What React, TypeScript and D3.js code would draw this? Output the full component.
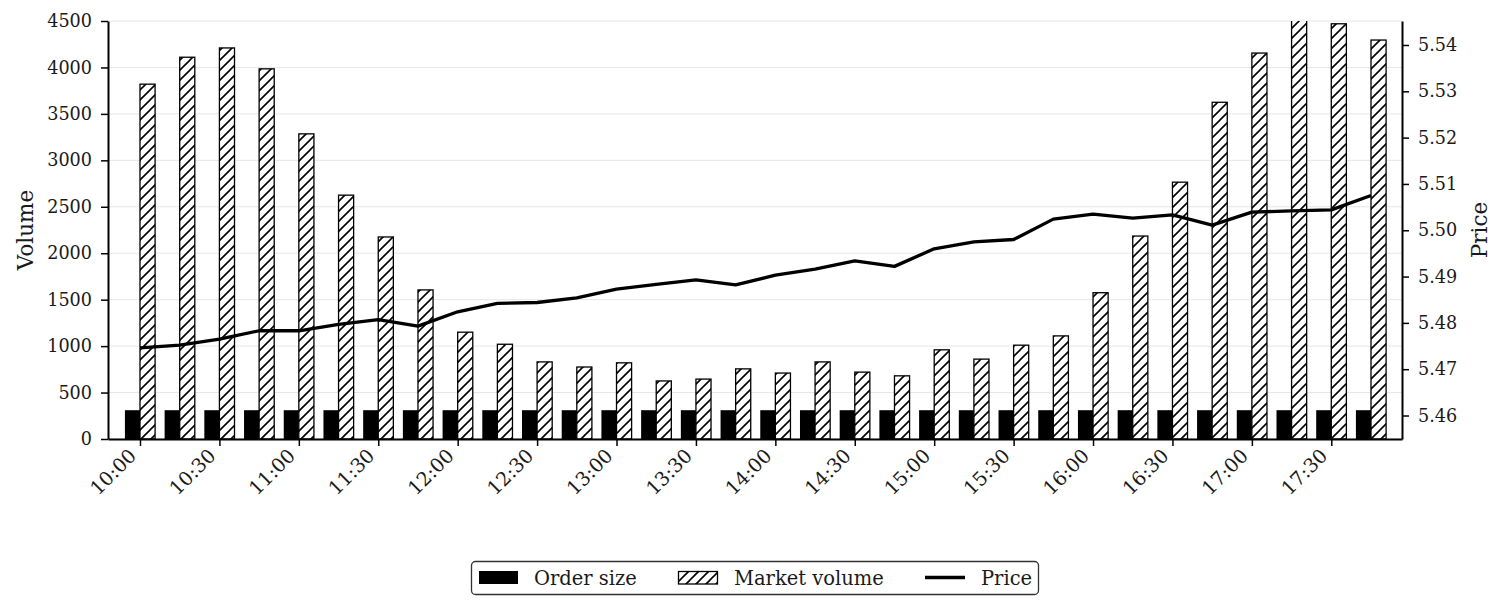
import React, { useEffect, useRef } from "react";
import * as d3 from "d3";

// 15-minute buckets over the trading session
const times = [
  "10:00", "10:15", "10:30", "10:45", "11:00", "11:15", "11:30", "11:45",
  "12:00", "12:15", "12:30", "12:45", "13:00", "13:15", "13:30", "13:45",
  "14:00", "14:15", "14:30", "14:45", "15:00", "15:15", "15:30", "15:45",
  "16:00", "16:15", "16:30", "16:45", "17:00", "17:15", "17:30", "17:45",
];

const orderSize = [
  310, 310, 310, 310, 310, 310, 310, 310, 310, 310, 310, 310, 310, 310, 310, 310,
  310, 310, 310, 310, 310, 310, 310, 310, 310, 310, 310, 310, 310, 310, 310, 310,
];

const marketVolume = [
  3820, 4110, 4210, 3985, 3285, 2625, 2175, 1605,
  1150, 1020, 830, 775, 820, 625, 645, 755,
  710, 830, 720, 680, 960, 860, 1010, 1110,
  1575, 2185, 2765, 3625, 4155, 4560, 4470, 4295,
];

const price = [
  5.4746, 5.4752, 5.4765, 5.4783, 5.4783, 5.4797, 5.4807, 5.4793,
  5.4824, 5.4842, 5.4844, 5.4854, 5.4873, 5.4883, 5.4893, 5.4882,
  5.4903, 5.4916, 5.4934, 5.4922, 5.496, 5.4975, 5.498, 5.5024,
  5.5035, 5.5026, 5.5033, 5.5011, 5.5039, 5.5042, 5.5044, 5.5075,
];

const volumeTicks = [0, 500, 1000, 1500, 2000, 2500, 3000, 3500, 4000, 4500];
const priceTicks = [5.46, 5.47, 5.48, 5.49, 5.5, 5.51, 5.52, 5.53, 5.54];

const FONT = "'DejaVu Serif', serif";
const TEXT = "#1a1a1a";

export default function App() {
  const svgRef = useRef<SVGSVGElement>(null);

  useEffect(() => {
    document.body.style.margin = "0";
    const width = 1504;
    const height = 611;
    const left = 108;
    const right = 1402;
    const top = 21;
    const bottom = 439;

    const svg = d3
      .select(svgRef.current)
      .attr("width", width)
      .attr("height", height)
      .style("display", "block")
      .style("background", "#fff");
    svg.selectAll("*").remove();

    const step = (1371 - 140) / 31;
    const x = d3
      .scaleLinear()
      .domain([-(140 - left) / step, times.length - 1 + (right - 1371) / step])
      .range([left, right]);
    const yVol = d3.scaleLinear().domain([0, 4500]).range([bottom, top]);
    const yPrice = d3.scaleLinear().domain([5.45493, 5.54518]).range([bottom, top]);
    const barW = step * 0.38;

    const defs = svg.append("defs");
    const hp = 10;
    const pat = defs
      .append("pattern")
      .attr("id", "hatch")
      .attr("patternUnits", "userSpaceOnUse")
      .attr("width", hp)
      .attr("height", hp);
    pat.append("rect").attr("width", hp).attr("height", hp).attr("fill", "#fff");
    pat
      .append("path")
      .attr("d", `M0,${hp} L${hp},0 M-1,1 L1,-1 M${hp - 1},${hp + 1} L${hp + 1},${hp - 1}`)
      .attr("stroke", "#000")
      .attr("stroke-width", 1.6);
    defs
      .append("clipPath")
      .attr("id", "plot")
      .append("rect")
      .attr("x", left)
      .attr("y", top)
      .attr("width", right - left)
      .attr("height", bottom - top);

    // horizontal grid from the volume axis
    svg
      .append("g")
      .selectAll("line")
      .data(volumeTicks)
      .enter()
      .append("line")
      .attr("x1", left)
      .attr("x2", right)
      .attr("y1", (d) => yVol(d))
      .attr("y2", (d) => yVol(d))
      .attr("stroke", "#e6e6e6")
      .attr("stroke-width", 1);

    const plot = svg.append("g").attr("clip-path", "url(#plot)");

    plot
      .selectAll("rect.order")
      .data(orderSize)
      .enter()
      .append("rect")
      .attr("class", "order")
      .attr("x", (_, i) => x(i) - barW)
      .attr("y", (d) => yVol(d))
      .attr("width", barW)
      .attr("height", (d) => yVol(0) - yVol(d))
      .attr("fill", "#000");

    plot
      .selectAll("rect.market")
      .data(marketVolume)
      .enter()
      .append("rect")
      .attr("class", "market")
      .attr("x", (_, i) => x(i))
      .attr("y", (d) => yVol(d))
      .attr("width", barW)
      .attr("height", (d) => yVol(0) - yVol(d))
      .attr("fill", "url(#hatch)")
      .attr("stroke", "#000")
      .attr("stroke-width", 1.3);

    const line = d3
      .line<number>()
      .x((_, i) => x(i))
      .y((d) => yPrice(d));
    plot
      .append("path")
      .datum(price)
      .attr("d", line)
      .attr("fill", "none")
      .attr("stroke", "#000")
      .attr("stroke-width", 3.3)
      .attr("stroke-linejoin", "round");

    const styleAxis = (
      g: d3.Selection<SVGGElement, unknown, null, undefined>,
      size = "17.6px"
    ) => {
      g.select(".domain").attr("stroke", "#000").attr("stroke-width", 2);
      g.selectAll(".tick line").attr("stroke", "#000").attr("stroke-width", 1.5);
      g.selectAll(".tick text")
        .attr("fill", TEXT)
        .style("font-family", FONT)
        .style("font-size", size);
    };

    const leftAxis = svg
      .append("g")
      .attr("transform", `translate(${left},0)`)
      .call(
        d3
          .axisLeft(yVol)
          .tickValues(volumeTicks)
          .tickFormat(d3.format("d"))
          .tickSize(7)
          .tickSizeOuter(0)
          .tickPadding(9)
      );
    styleAxis(leftAxis);

    const rightAxis = svg
      .append("g")
      .attr("transform", `translate(${right},0)`)
      .call(
        d3
          .axisRight(yPrice)
          .tickValues(priceTicks)
          .tickFormat(d3.format(".2f"))
          .tickSize(7)
          .tickSizeOuter(0)
          .tickPadding(9)
      );
    styleAxis(rightAxis);

    const xTickIdx = times.map((_, i) => i).filter((i) => i % 2 === 0);
    const bottomAxis = svg
      .append("g")
      .attr("transform", `translate(0,${bottom})`)
      .call(
        d3
          .axisBottom(x)
          .tickValues(xTickIdx)
          .tickFormat((d) => times[d as number])
          .tickSize(7)
          .tickSizeOuter(0)
      );
    styleAxis(bottomAxis, "19.3px");
    bottomAxis
      .selectAll(".tick text")
      .attr("text-anchor", "end")
      .attr("dy", null)
      .attr("y", null)
      .attr("transform", "translate(-3,18) rotate(-45)");

    svg
      .append("text")
      .attr("transform", `translate(33,${(top + bottom) / 2}) rotate(-90)`)
      .attr("text-anchor", "middle")
      .attr("fill", TEXT)
      .style("font-family", FONT)
      .style("font-size", "21.5px")
      .text("Volume");

    svg
      .append("text")
      .attr("transform", `translate(1487,${(top + bottom) / 2}) rotate(-90)`)
      .attr("text-anchor", "middle")
      .attr("fill", TEXT)
      .style("font-family", FONT)
      .style("font-size", "21.5px")
      .text("Price");

    // legend
    const lg = svg.append("g");
    lg.append("rect")
      .attr("x", 471.5)
      .attr("y", 561.5)
      .attr("width", 567)
      .attr("height", 33)
      .attr("rx", 4)
      .attr("fill", "#fff")
      .attr("stroke", "#333")
      .attr("stroke-width", 1.3);
    lg.append("rect")
      .attr("x", 479)
      .attr("y", 571)
      .attr("width", 39)
      .attr("height", 13)
      .attr("fill", "#000");
    lg.append("rect")
      .attr("x", 678.5)
      .attr("y", 571.5)
      .attr("width", 39)
      .attr("height", 12.5)
      .attr("fill", "url(#hatch)")
      .attr("stroke", "#000")
      .attr("stroke-width", 1.3);
    lg.append("line")
      .attr("x1", 925)
      .attr("x2", 965)
      .attr("y1", 577.5)
      .attr("y2", 577.5)
      .attr("stroke", "#000")
      .attr("stroke-width", 3.3);
    const entries: [string, number][] = [
      ["Order size", 534],
      ["Market volume", 734],
      ["Price", 981],
    ];
    lg.selectAll("text")
      .data(entries)
      .enter()
      .append("text")
      .attr("x", (d) => d[1])
      .attr("y", 585)
      .attr("fill", TEXT)
      .style("font-family", FONT)
      .style("font-size", "19.5px")
      .text((d) => d[0]);
  }, []);

  return <svg ref={svgRef}></svg>;
}
